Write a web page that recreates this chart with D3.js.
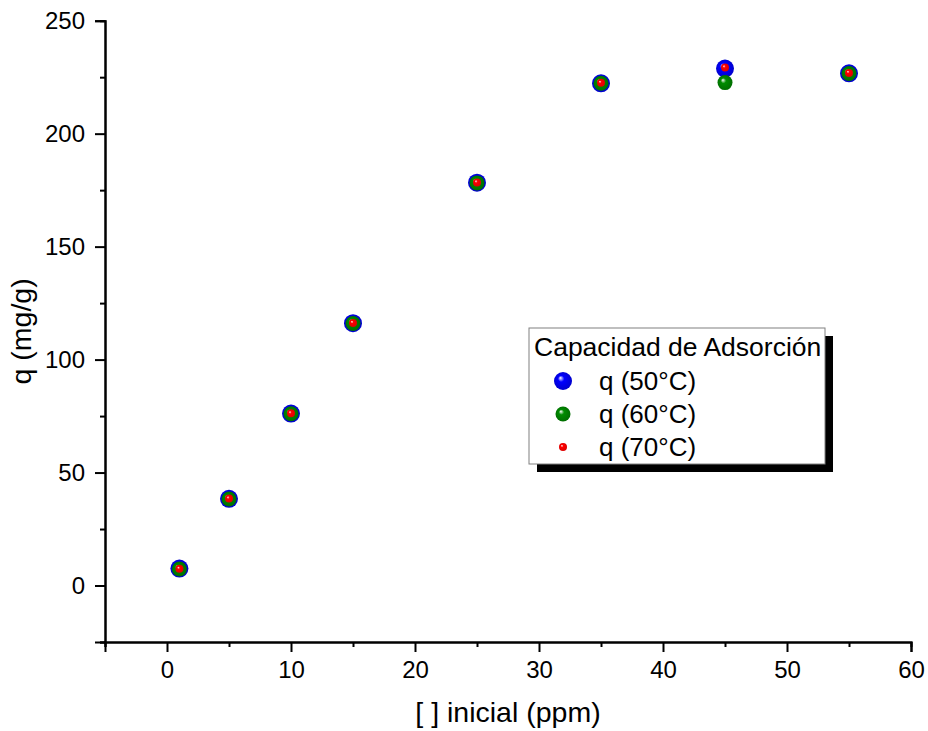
<!DOCTYPE html>
<html>
<head>
<meta charset="utf-8">
<script src="https://cdn.jsdelivr.net/npm/d3@7"></script>
<style>
  html, body { margin: 0; padding: 0; background: #fff; }
  svg { display: block; font-family: Arial, "Liberation Sans", sans-serif; }
</style>
</head>
<body>
<script>
// ---- data ----
const concentrations = [1, 5, 10, 15, 25, 35, 45, 55];
const q50 = [7.5, 38.4, 76.1, 116.1, 178.3, 222.3, 228.8, 226.7];
const q60 = [7.3, 38.3, 76.0, 116.0, 178.2, 222.3, 222.6, 226.6];
const q70 = [7.4, 38.5, 76.2, 116.2, 178.4, 222.5, 229.3, 226.9];
const seriesNames = ["q (50°C)", "q (60°C)", "q (70°C)"];
const legendTitle = "Capacidad de Adsorción";
const xTicks = [0, 10, 20, 30, 40, 50, 60];
const yTicks = [0, 50, 100, 150, 200, 250];
const xTitle = "[ ] inicial (ppm)";
const yTitle = "q (mg/g)";

const W = 928, H = 731;
const svg = d3.select("body").append("svg").attr("width", W).attr("height", H);

const x = d3.scaleLinear().domain([-5, 60]).range([105, 911]);
const y = d3.scaleLinear().domain([-25, 250]).range([642, 20.7]);

// gradients for glossy spheres
const defs = svg.append("defs");
const styles = [
  { id: "gBlue", base: "#0000ff", dark: "#0000c8", r: 9 },
  { id: "gGreen", base: "#008c00", dark: "#006a00", r: 7.5 },
  { id: "gRed", base: "#ff0000", dark: "#d80000", r: 4 }
];
styles.forEach(s => {
  const g = defs.append("radialGradient").attr("id", s.id)
    .attr("cx", "50%").attr("cy", "50%").attr("r", "55%")
    .attr("fx", "35%").attr("fy", "32%");
  g.append("stop").attr("offset", "0%").attr("stop-color", "#ffffff");
  g.append("stop").attr("offset", "32%").attr("stop-color", s.base);
  g.append("stop").attr("offset", "100%").attr("stop-color", s.dark);
});

// axes
const xAxis = d3.axisBottom(x).tickValues(xTicks).tickSize(10).tickPadding(9).tickFormat(d3.format("d"));
const yAxis = d3.axisLeft(y).tickValues(yTicks).tickSize(10).tickPadding(10).tickFormat(d3.format("d"));
const xMinor = d3.axisBottom(x).tickValues(d3.range(-5, 61, 10)).tickSize(5).tickFormat("");
const yMinor = d3.axisLeft(y).tickValues(d3.range(-25, 251, 50)).tickSize(5).tickFormat("");

function styleAxis(g) {
  g.select(".domain").attr("stroke", "#000").attr("stroke-width", 2);
  g.selectAll(".tick line").attr("stroke", "#000").attr("stroke-width", 2);
  g.selectAll(".tick text").attr("fill", "#000").attr("font-size", 24)
    .attr("font-family", "Arial, 'Liberation Sans', sans-serif");
}
const gx = svg.append("g").attr("transform", `translate(0,${y(-25)})`).call(xAxis);
styleAxis(gx);
const gxm = svg.append("g").attr("transform", `translate(0,${y(-25)})`).call(xMinor);
styleAxis(gxm);
const gy = svg.append("g").attr("transform", `translate(${x(-5)},0)`).call(yAxis);
styleAxis(gy);
const gym = svg.append("g").attr("transform", `translate(${x(-5)},0)`).call(yMinor);
styleAxis(gym);

// titles
svg.append("text").attr("x", (x(-5) + x(60)) / 2).attr("y", 722)
  .attr("text-anchor", "middle").attr("font-size", 28.5).text(xTitle);
svg.append("text").attr("transform", `translate(31,${(y(-25) + y(250)) / 2}) rotate(-90)`)
  .attr("text-anchor", "middle").attr("font-size", 28.5).text(yTitle);

// points
const allSeries = [q50, q60, q70];
allSeries.forEach((vals, i) => {
  svg.append("g").selectAll("circle").data(vals).join("circle")
    .attr("cx", (d, j) => x(concentrations[j]))
    .attr("cy", d => y(d))
    .attr("r", styles[i].r)
    .attr("fill", `url(#${styles[i].id})`);
});

// legend
const lg = svg.append("g");
const lx = 529, ly = 328, lw = 296, lh = 136;
lg.append("rect").attr("x", lx + 8).attr("y", ly + 8).attr("width", lw).attr("height", lh).attr("fill", "#000");
lg.append("rect").attr("x", lx).attr("y", ly).attr("width", lw).attr("height", lh)
  .attr("fill", "#fff").attr("stroke", "#808080").attr("stroke-width", 1);
lg.append("text").attr("x", lx + 5).attr("y", ly + 28).attr("font-size", 26.5).text(legendTitle);
seriesNames.forEach((name, i) => {
  const cy = ly + 53 + i * 33;
  lg.append("circle").attr("cx", lx + 34).attr("cy", cy).attr("r", styles[i].r)
    .attr("fill", `url(#${styles[i].id})`);
  lg.append("text").attr("x", lx + 70).attr("y", cy + 9).attr("font-size", 26).text(name);
});
</script>
</body>
</html>
